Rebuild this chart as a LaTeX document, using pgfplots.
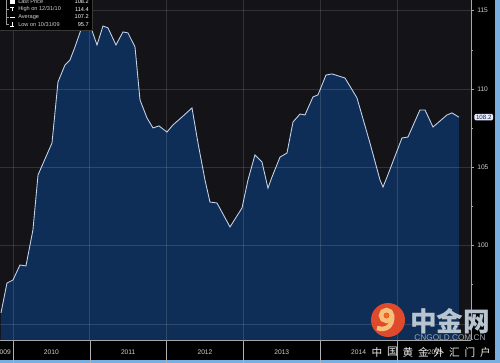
\documentclass[border=0pt]{standalone}
\usepackage{pgfplots}
\pgfplotsset{compat=1.18}
\usepackage{fontspec}
\setmainfont{Liberation Sans}
\newfontfamily\cjk{Noto Sans CJK SC}
\definecolor{bordercol}{HTML}{78AEE0}
\definecolor{plotbg}{HTML}{141317}
\definecolor{fillMid}{HTML}{0F2E57}
\definecolor{fillBot}{HTML}{0A2246}
\definecolor{linecol}{HTML}{C4D4EA}
\definecolor{txt}{HTML}{D0D0D0}
\definecolor{wm}{HTML}{B8C4D0}
\definecolor{logored}{HTML}{E04A2C}
\definecolor{logocream}{HTML}{F4C07A}
\pgfplotstableread{
t v
2009.844 95.7
2009.922 97.61
2010.000 97.80
2010.091 98.76
2010.169 98.70
2010.260 101.00
2010.326 104.51
2010.508 106.55
2010.586 110.45
2010.677 111.53
2010.742 111.85
2010.807 112.68
2010.898 113.96
2010.951 114.4
2011.003 114.09
2011.094 112.81
2011.172 114.02
2011.237 113.90
2011.341 112.81
2011.432 113.64
2011.497 113.58
2011.589 112.68
2011.654 109.30
2011.745 108.15
2011.823 107.51
2011.901 107.64
2012.005 107.25
2012.083 107.70
2012.201 108.21
2012.331 108.79
2012.409 106.55
2012.500 104.19
2012.565 102.78
2012.656 102.72
2012.826 101.19
2012.982 102.40
2013.060 104.19
2013.151 105.79
2013.242 105.34
2013.320 103.67
2013.372 104.37
2013.477 105.65
2013.568 105.91
2013.646 107.89
2013.737 108.40
2013.802 108.34
2013.906 109.49
2013.971 109.62
2014.076 110.89
2014.154 110.96
2014.323 110.70
2014.479 109.43
2014.648 106.55
2014.779 104.19
2014.818 103.74
2014.870 104.37
2015.065 106.87
2015.143 106.93
2015.299 108.66
2015.365 108.66
2015.469 107.57
2015.651 108.34
2015.716 108.47
2015.807 108.2
}\prices
\begin{document}
\begin{tikzpicture}
\useasboundingbox (0,0) rectangle (375pt,-272.25pt);
\clip (0,0) rectangle (375pt,-272.25pt);
\begin{scope}[x=0.75pt,y=-0.75pt]
 \fill[bordercol] (0,0) rectangle (500,363);
 \fill[black] (0,0) rectangle (495,360);
 \fill[plotbg] (0,0) rectangle (471,340);
\end{scope}
\begin{axis}[at={(0,0)}, anchor=north west, scale only axis,
  width=353.25pt, height=255pt,
  xmin=2009.831, xmax=2015.964, ymin=93.97, ymax=115.68,
  axis x line*=bottom, axis y line*=right,
  axis line style={color=gray!70, line width=0.5pt},
  axis on top,
  xtick={2010,2011,...,2015}, xticklabels={},
  minor x tick num=3,
  ytick={95,100,...,115}, yticklabels={,100,105,110,115},
  minor y tick num=1,
  tick align=outside, major tick length=2.2pt, minor tick length=1.3pt,
  tick style={color=gray!70, line width=0.4pt},
  grid=major, major grid style={white, opacity=0.13, line width=0.5pt},
  y tick label style={font=\fontsize{5}{6}\selectfont, color=txt, xshift=-1pt},
  clip=false,
]
\addplot[draw=none, fill=fillMid] table[x=t,y=v] {\prices} \closedcycle;
\addplot[draw=linecol, line width=0.65pt, mark=none] table[x=t,y=v] {\prices};
\pgfplotsinvokeforeach{2010,2011,2012,2013,2014,2015}{
  \draw[gray!60, line width=0.4pt] (axis cs:#1,93.97) -- (axis cs:#1,92.3);
  \node[font=\fontsize{5}{6}\selectfont, text=txt] at (axis cs:#1.5,93.2) {#1};
}
\node[anchor=west, fill=white!92!blue, rounded corners=1pt, inner xsep=1.2pt, inner ysep=0.8pt,
  font=\fontsize{4.6}{5}\selectfont, text=fillBot, xshift=2.4pt] at (axis cs:2015.964,108.2) {108.2};
\end{axis}
\begin{scope}[x=0.75pt,y=-0.75pt]
 % 2009 label
 \node[anchor=east, font=\fontsize{5}{6}\selectfont, text=txt, inner sep=0pt] at (11,352) {2009};
 % legend
 \fill[black] (0,-2) rectangle (92,30);
 \draw[gray!45!black, line width=0.3pt] (92,-2) -- (92,30) -- (0,30);
 \draw[gray!80, line width=0.3pt] (6,-2) -- (6,25);
 \foreach \yy in {9.5,17,24.5} \draw[gray!80, line width=0.3pt] (6,\yy) -- (8.5,\yy);
 \fill[white] (10,0) rectangle (15,4);
 \draw[white, line width=0.4pt] (10,7.5) -- (14,7.5) (12,7.5) -- (12,11.5);
 \draw[white, line width=0.6pt] (10,17) -- (15,17);
 \draw[white, line width=0.4pt] (12,22.5) -- (12,26.5) (10,26.5) -- (14,26.5);
 \begin{scope}[font=\fontsize{4.2}{5}\selectfont]
 \node[anchor=west, text=txt, inner sep=0pt] at (18,2) {Last Price};
 \node[anchor=west, text=txt, inner sep=0pt] at (18,9.5) {High on 12/31/10};
 \node[anchor=west, text=txt, inner sep=0pt] at (18,17) {Average};
 \node[anchor=west, text=txt, inner sep=0pt] at (18,24.5) {Low on 10/31/09};
 \node[anchor=east, text=white, inner sep=0pt] at (89,2) {108.2};
 \node[anchor=east, text=white, inner sep=0pt] at (89,9.5) {114.4};
 \node[anchor=east, text=white, inner sep=0pt] at (89,17) {107.2};
 \node[anchor=east, text=white, inner sep=0pt] at (89,24.5) {95.7};
 \end{scope}
 % watermark
 \fill[logored] (388,320) circle (17);
 \draw[logocream, line width=3.4] (386.5,315.5) circle (5.5);
 \draw[logocream, line width=3.4] (392,316) .. controls (393,326) and (386,331) .. (377,328);
 \fill[orange!70!logored] (386.5,315.5) circle (2.2);
 \node[font=\cjk\fontsize{20}{20}\selectfont\bfseries, text=wm, inner sep=0pt] at (450,321) {中金网};
 \node[font=\fontsize{6.2}{7}\selectfont, text=wm!85!black, inner sep=0pt] at (450,338) {CNGOLD.COM.CN};
 \foreach \c [count=\i from 0] in {中,国,黄,金,外,汇,门,户}
   \node[font=\cjk\fontsize{8}{8}\selectfont, text=white!85!gray, inner sep=0pt] at (377+15.5*\i,352) {\c};
\end{scope}
\end{tikzpicture}
\end{document}
